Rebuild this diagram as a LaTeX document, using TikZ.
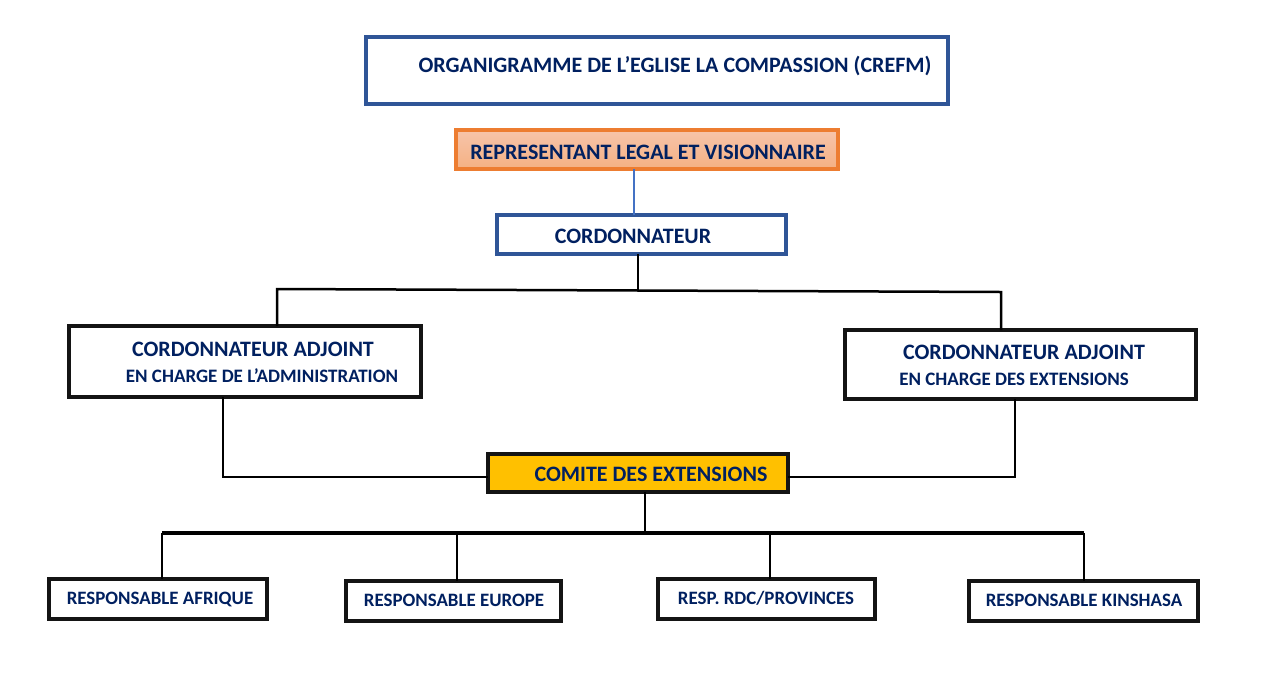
\documentclass[tikz,border=0pt]{standalone}
\usepackage{fontspec}
\setmainfont{Carlito}
\usetikzlibrary{calc}
\definecolor{navy}{HTML}{002060}
\definecolor{bblue}{HTML}{2F5597}
\definecolor{lblue}{HTML}{4472C4}
\definecolor{orng}{HTML}{ED7D31}
\definecolor{salm}{HTML}{F4B183}
\definecolor{salmtop}{HTML}{F7C4AA}
\definecolor{gold}{HTML}{FFC000}
\tikzset{
  box/.style={draw, inner sep=0pt, outer sep=0pt, fill=white},
  bluebox/.style={box, draw=bblue, line width=4pt},
  blackbox/.style={box, draw=black!92, line width=4pt},
  orangebox/.style={box, draw=orng, line width=3.5pt, top color=salmtop, bottom color=salm},
  goldbox/.style={box, draw=black!92, line width=4pt, fill=gold},
  txt/.style={inner sep=0pt, text=navy, font=\bfseries\fontsize{22}{24}\selectfont},
  subtxt/.style={inner sep=0pt, text=navy, font=\bfseries\fontsize{19}{21}\selectfont},
  smalltxt/.style={inner sep=0pt, text=navy, font=\bfseries\fontsize{18.9}{21}\selectfont},
  conn/.style={draw=black, line width=2.5pt},
  bus/.style={draw=black, line width=3.5pt},
}
\begin{document}
\begin{tikzpicture}[x=1pt,y=-1pt]
\useasboundingbox[fill=white] (0,0) rectangle (1286,673);
% boxes
\node[bluebox, minimum width=582pt, minimum height=67pt] (title) at (657,70.5) {};
\node[orangebox, minimum width=382pt, minimum height=39pt] (rep) at (647,149.5) {};
\node[bluebox, minimum width=289pt, minimum height=39pt] (cord) at (641.5,234.5) {};
\node[blackbox, minimum width=352pt, minimum height=71pt] (adjl) at (245,361.5) {};
\node[blackbox, minimum width=351pt, minimum height=69pt] (adjr) at (1020.5,364.5) {};
\node[goldbox, minimum width=300pt, minimum height=38pt] (comite) at (638,473) {};
\node[blackbox, minimum width=218pt, minimum height=40pt] (afr) at (158,599) {};
\node[blackbox, minimum width=215pt, minimum height=40pt] (eur) at (453.5,601) {};
\node[blackbox, minimum width=217pt, minimum height=40pt] (rdc) at (766.5,599) {};
\node[blackbox, minimum width=229pt, minimum height=40pt] (kin) at (1083.5,601) {};
% texts
\node[txt] (t0) at (675,66) {ORGANIGRAMME DE L’EGLISE LA COMPASSION (CREFM)};
\node[txt] (t1) at (648,152) {REPRESENTANT LEGAL ET VISIONNAIRE};
\node[txt] (t2) at (633,236) {CORDONNATEUR};
\node[txt] (t3) at (253,349) {CORDONNATEUR ADJOINT};
\node[subtxt] (t4) at (262,376) {EN CHARGE DE L’ADMINISTRATION};
\node[txt] (t5) at (1024,352) {CORDONNATEUR ADJOINT};
\node[subtxt] (t6) at (1014,379) {EN CHARGE DES EXTENSIONS};
\node[txt] (t7) at (651,474) {COMITE DES EXTENSIONS};
\node[smalltxt] (t8) at (160,599) {RESPONSABLE AFRIQUE};
\node[smalltxt] (t9) at (454,600) {RESPONSABLE EUROPE};
\node[smalltxt] (t10) at (766,598) {RESP. RDC/PROVINCES};
\node[smalltxt] (t11) at (1084,600) {RESPONSABLE KINSHASA};
% connectors
\draw[draw=lblue, line width=2pt] ([xshift=-13pt]rep.south) -- ([xshift=-7.5pt]cord.north);
\coordinate (j1) at (638,290);
\coordinate (jl) at (277,289);
\coordinate (jr) at (1001,292);
\draw[conn] (cord.south -| j1) -- (j1);
\draw[conn] (adjl.north -| jl) -- (jl) -- (jr) -- (adjr.north -| jr);
\coordinate (kl) at (223,477);
\coordinate (kr) at (1015,477);
\draw[conn] (adjl.south -| kl) -- (kl) -- (comite.west |- kl);
\draw[conn] (adjr.south -| kr) -- (kr) -- (comite.east |- kr);
\coordinate (j2) at (645,533);
\coordinate (b1) at (162,533);
\coordinate (b2) at (457,533);
\coordinate (b3) at (770,533);
\coordinate (b4) at (1084,533);
\draw[conn] (comite.south -| j2) -- (j2);
\draw[bus] (b1) -- (b4);
\draw[conn] (b1) -- (afr.north -| b1);
\draw[conn] (b2) -- (eur.north -| b2);
\draw[conn] (b3) -- (rdc.north -| b3);
\draw[conn] (b4) -- (kin.north -| b4);
\end{tikzpicture}
\end{document}
